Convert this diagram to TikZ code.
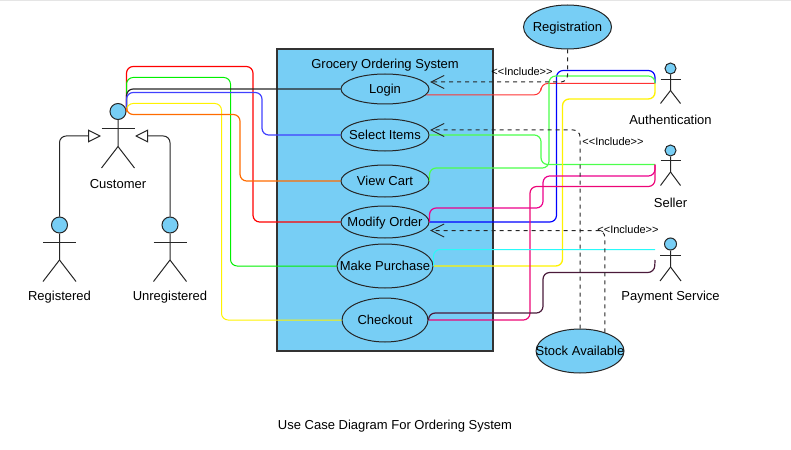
\documentclass[tikz,border=0pt]{standalone}
\usepackage{fontspec}
\setmainfont{Liberation Sans}
\usetikzlibrary{arrows.meta,shapes.geometric}
\definecolor{ucblue}{RGB}{119,206,245}
\definecolor{plum}{RGB}{74,26,58}
\definecolor{aqua}{RGB}{40,250,250}
\newcommand{\uctext}[1]{\smash{\raisebox{-3.6pt}{\makebox[0pt]{#1}}}}
\begin{document}
\begin{tikzpicture}[x=0.75pt,y=-0.75pt,>={Straight Barb[length=9.75pt,width=9.75pt]},
                    use case/.style={ellipse,draw=black!85,fill=ucblue,line width=0.75pt,inner sep=0pt,font=\fontsize{9.75pt}{11pt}\selectfont},
                    plain label/.style={yshift=-1.1pt,font=\fontsize{9.75pt}{11pt}\selectfont},
                    include label/.style={font=\fontsize{8.25pt}{10pt}\selectfont},
                    link/.style={rounded corners=5pt,line width=0.9pt},
                    include/.style={->,rounded corners=5pt,line width=0.75pt,black!85,dash pattern=on 3pt off 3pt},
                    generalize/.style={-{Triangle[open,fill=white,length=9.75pt,width=9.75pt]},rounded corners=5pt,line width=0.75pt,black!85}]
\useasboundingbox (0,0) rectangle (791,449);
\fill[black!10] (0,0) rectangle (791,1.5);

\node[draw=black!80,fill=ucblue,line width=0.85pt,minimum width=162pt,minimum height=226.5pt,inner sep=0pt] (OrderingSystem) at (385,200) {};
\node[plain label] (SystemLabel) at (385,64) {Grocery Ordering System};

\node[use case,minimum width=66pt,minimum height=22.5pt] (Login) at (385,89) {\uctext{Login}};
\node[use case,minimum width=66pt,minimum height=24pt] (SelectItems) at (385,135) {\uctext{Select Items}};
\node[use case,minimum width=66pt,minimum height=24pt] (ViewCart) at (385,181) {\uctext{View Cart}};
\node[use case,minimum width=66pt,minimum height=24pt] (ModifyOrder) at (385,222) {\uctext{Modify Order}};
\node[use case,minimum width=72pt,minimum height=33pt] (MakePurchase) at (385,266) {\uctext{Make Purchase}};
\node[use case,minimum width=64.5pt,minimum height=33pt] (Checkout) at (385,320) {\uctext{Checkout}};
\node[use case,minimum width=66pt,minimum height=33pt] (Registration) at (567.5,27) {\uctext{Registration}};
\node[use case,minimum width=66pt,minimum height=33pt] (StockAvailable) at (580,351) {\uctext{Stock Available}};

% actors
\foreach \name/\txt/\x/\y/\r/\w/\a/\h/\f/\l in {
    Customer/Customer/118/111.5/8/16.5/17.5/35/56.5/71.5,
    Registered/Registered/59.5/225/8/16.5/17.5/35/56.5/71,
    Unregistered/Unregistered/170/225/8/16.5/17.5/35/56.5/71,
    Authentication/Authentication/670.5/68.5/5.5/10/11/22/35/49.5,
    Seller/Seller/670.5/150.5/5.5/10/10/21.5/35/50.5,
    PaymentService/Payment Service/670.5/244/6/10.5/11/23/37/52}
   {\node[circle,draw=black!85,fill=ucblue,line width=0.75pt,inner sep=0pt,minimum size=\r*1.5pt] (\name) at (\x,\y) {};
    \draw[line width=0.75pt,black!85] (\name.south) -- (\x,\y+\h) -- (\x-\w,\y+\f);
    \draw[line width=0.75pt,black!85] (\x,\y+\h) -- (\x+\w,\y+\f);
    \draw[line width=0.75pt,black!85] (\x-\w,\y+\a) -- (\x+\w,\y+\a);
    \node[plain label] (\name Label) at (\x,\y+\l) {\txt};}

\coordinate (CustomerLeft) at (101,136);
\coordinate (CustomerRight) at (135,136);
\coordinate (AuthPort) at (655,83.5);
\coordinate (SellerPort) at (655,164.5);
\coordinate (PayTop) at (655,249.5);
\coordinate (PayBottom) at (655,260);
\coordinate (LoginTip) at (430,82);
\coordinate (SelectTip) at (430,130);
\coordinate (ModifyTip) at (430,230.5);

\draw[generalize] (Registered.north) |- (CustomerLeft);
\draw[generalize] (Unregistered.north) |- (CustomerRight);

% customer side
\draw[link,red] (Customer.east) |- (253,66.5) |- (ModifyOrder.west);
\draw[link,green!90!black!60!green,line width=0.75pt] (Customer.east) |- (230.5,77.5) |- (MakePurchase.west);
\draw[link,black!85] (Customer.east) |- (Login.west);
\draw[link,blue!75!white] (Customer.east) |- (262,92.5) |- (SelectItems.west);
\draw[link,yellow,line width=0.75pt] (Customer.east) |- (221.5,103.5) |- (Checkout.west);
\draw[link,orange!85!red] (Customer.east) |- (240,114.5) |- (ViewCart.west);

% other actors
\draw[link,red!80!white,line width=0.75pt] (Login.-8) -| (541,83.5) -- (AuthPort);
\draw[link,blue] (AuthPort) |- (556.5,70.5) |- (ModifyOrder.east);
\draw[link,green!70!white] (SelectItems.east) -| (541,164.5) -- (SellerPort);
\draw[link,green!70!white] (ViewCart.east) |- (549,168) |- (655,76) -- (AuthPort);
\draw[link,yellow,line width=1pt] (MakePurchase.east) -| (562.5,99) -| (AuthPort);
\draw[link,magenta] (ModifyOrder.east) |- (543,208) |- (655,176) -- (SellerPort);
\draw[link,magenta!80!red] (Checkout.east) -| (530,186.5) -| (SellerPort);
\draw[link,plum] (Checkout.east) |- (543,313) |- (654.5,272.5) -- (PayBottom);
\draw[link,aqua,line width=0.75pt] (MakePurchase.east) |- (PayTop);

% includes
\draw[include] (Registration.south) |- (LoginTip);
\draw[include] (StockAvailable.north) |- (SelectTip);
\draw[include] (StockAvailable.37) |- (ModifyTip);
\node[include label] (IncludeLogin) at (522,72) {<{}<Include>{}>};
\node[include label] (IncludeSelect) at (613,142) {<{}<Include>{}>};
\node[include label] (IncludeModify) at (628,230) {<{}<Include>{}>};

\node[plain label] (DiagramTitle) at (395,425) {Use Case Diagram For Ordering System};
\end{tikzpicture}
\end{document}
